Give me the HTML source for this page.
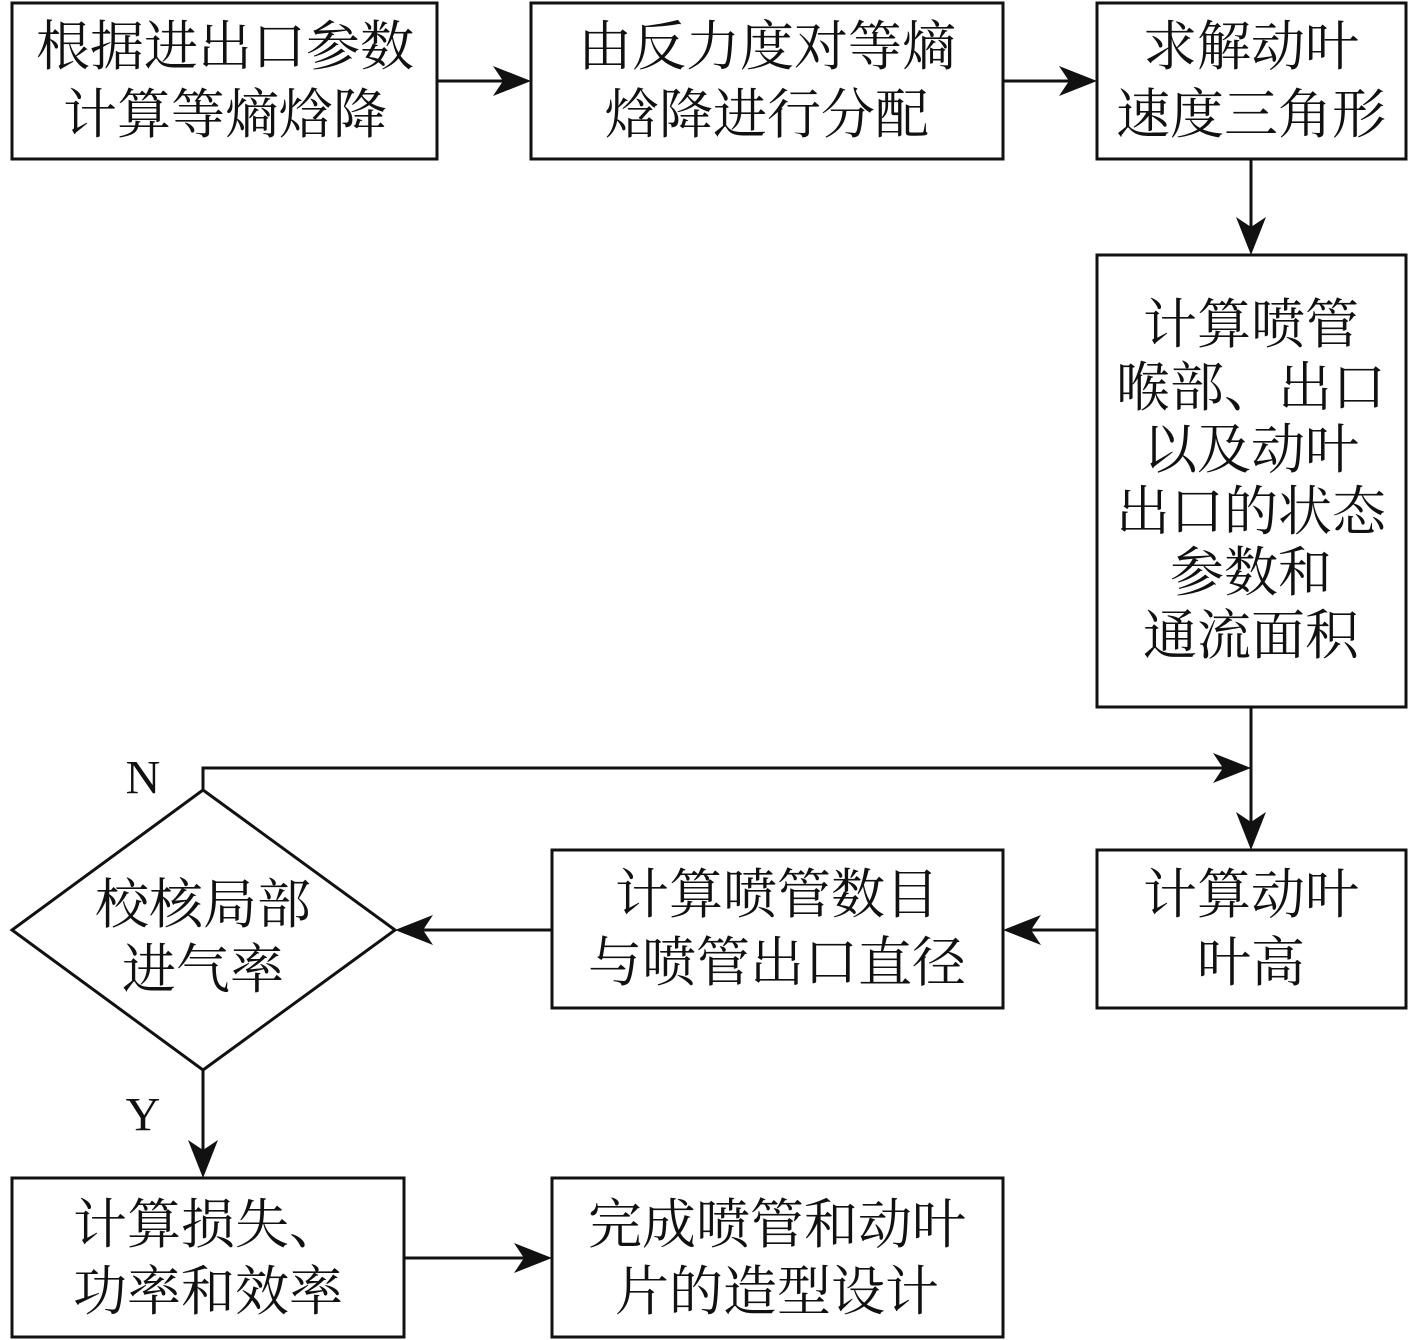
<!DOCTYPE html>
<html><head><meta charset="utf-8"><style>
html,body{margin:0;padding:0;background:#fff;}
svg{display:block;}
text{font-family:"Liberation Serif","Noto Serif CJK SC",serif;font-size:54px;fill:#111;text-anchor:middle;dominant-baseline:central;}
</style></head><body>
<svg width="1417" height="1340" viewBox="0 0 1417 1340" xmlns="http://www.w3.org/2000/svg">
<defs><marker id="a" markerWidth="12" markerHeight="10" refX="11" refY="5" orient="auto" markerUnits="userSpaceOnUse" viewBox="0 0 12 10">
</marker></defs>
<g fill="none" stroke="#111" stroke-width="3">
<rect x="12" y="3" width="425" height="156"/>
<rect x="531" y="3" width="472" height="156"/>
<rect x="1097" y="3" width="309" height="156"/>
<rect x="1097" y="255" width="309" height="452"/>
<rect x="1097" y="850" width="309" height="158"/>
<rect x="552" y="850" width="451" height="158"/>
<polygon points="203,790 395,930 203,1070 12,930"/>
<rect x="12" y="1178" width="392" height="159"/>
<rect x="552" y="1178" width="451" height="159"/>
<line x1="437" y1="81" x2="510" y2="81"/>
<line x1="1003" y1="81" x2="1076" y2="81"/>
<line x1="1251" y1="159" x2="1251" y2="234"/>
<line x1="1251" y1="707" x2="1251" y2="829"/>
<polyline points="203,790 203,768 1230,768"/>
<line x1="1097" y1="930" x2="1024" y2="930"/>
<line x1="552" y1="930" x2="416" y2="930"/>
<line x1="203" y1="1070" x2="203" y2="1157"/>
<line x1="404" y1="1258" x2="531" y2="1258"/>
</g>
<g fill="#111">
<polygon points="531,81 493,66 503,81 493,96"/>
<polygon points="1097,81 1059,66 1069,81 1059,96"/>
<polygon points="1251,255 1236,217 1251,227 1266,217"/>
<polygon points="1251,850 1236,812 1251,822 1266,812"/>
<polygon points="1251,768 1213,753 1223,768 1213,783"/>
<polygon points="1003,930 1041,915 1031,930 1041,945"/>
<polygon points="395,930 433,915 423,930 433,945"/>
<polygon points="203,1178 188,1140 203,1150 218,1140"/>
<polygon points="552,1258 514,1243 524,1258 514,1273"/>
</g>
<text x="225" y="47">根据进出口参数</text>
<text x="225" y="115">计算等熵焓降</text>
<text x="767" y="47">由反力度对等熵</text>
<text x="767" y="115">焓降进行分配</text>
<text x="1251" y="47">求解动叶</text>
<text x="1251" y="115">速度三角形</text>
<text x="1251" y="325">计算喷管</text>
<text x="1251" y="388">喉部、出口</text>
<text x="1251" y="450">以及动叶</text>
<text x="1251" y="512">出口的状态</text>
<text x="1251" y="573">参数和</text>
<text x="1251" y="636">通流面积</text>
<text x="1251" y="895">计算动叶</text>
<text x="1251" y="963">叶高</text>
<text x="777" y="895">计算喷管数目</text>
<text x="777" y="963">与喷管出口直径</text>
<text x="203" y="905">校核局部</text>
<text x="203" y="970">进气率</text>
<text x="208" y="1225">计算损失、</text>
<text x="208" y="1292">功率和效率</text>
<text x="777" y="1225">完成喷管和动叶</text>
<text x="777" y="1292">片的造型设计</text>
<text x="143" y="778" style="font-size:48px">N</text>
<text x="143" y="1115" style="font-size:48px">Y</text>
</svg>
</body></html>
